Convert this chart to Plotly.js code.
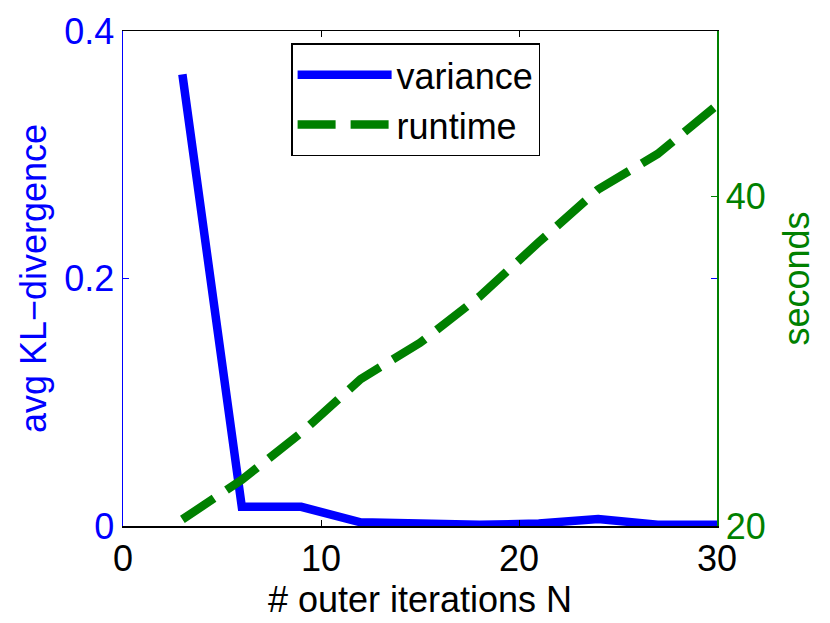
<!DOCTYPE html>
<html>
<head>
<meta charset="utf-8">
<script src="https://cdn.plot.ly/plotly-3.0.1.min.js"></script>
<style>
  body { margin: 0; background: #fff; }
  #chart { width: 830px; height: 623px; }
</style>
</head>
<body>
<div id="chart"></div>
<script>
const iterations = [3, 6, 9, 12, 15, 18, 21, 24, 27, 30];
const variance = [0.365, 0.0155, 0.0155, 0.003, 0.002, 0.001, 0.002, 0.0057, 0.001, 0.001];
const runtime = [20.4, 22.8, 25.65, 28.9, 31.1, 33.9, 37.2, 40.4, 42.55, 45.5];

const font = "Liberation Sans, Arial, Helvetica, sans-serif";

const data = [
  {
    x: iterations,
    y: variance,
    name: "variance",
    type: "scatter",
    mode: "lines",
    line: { color: "#0000ff", width: 8.5 },
  },
  {
    x: iterations,
    y: runtime,
    name: "runtime",
    type: "scatter",
    mode: "lines",
    yaxis: "y2",
    line: { color: "#008000", width: 8.5, dash: "38px,15px" },
  },
];

const layout = {
  width: 830,
  height: 623,
  margin: { l: 123, r: 113, t: 31, b: 97 },
  paper_bgcolor: "#fff",
  plot_bgcolor: "#fff",
  font: { family: font, size: 36, color: "#000" },
  showlegend: true,
  legend: {
    x: 0.283,
    y: 0.975,
    xanchor: "left",
    yanchor: "top",
    bgcolor: "#fff",
    bordercolor: "#000",
    borderwidth: 1.5,
    itemwidth: 94,
    font: { family: font, size: 36, color: "#000" },
  },
  xaxis: {
    range: [0, 30],
    tickvals: [0, 10, 20, 30],
    ticks: "inside",
    ticklen: 6,
    tickcolor: "#000",
    showline: true,
    linecolor: "#000",
    linewidth: 1.5,
    mirror: "ticks",
    showgrid: false,
    zeroline: false,
    title: { text: "# outer iterations N", font: { size: 36 }, standoff: 8 },
  },
  yaxis: {
    range: [0, 0.4],
    tickvals: [0, 0.2, 0.4],
    ticks: "inside",
    ticklen: 6,
    tickcolor: "#0000ff",
    tickfont: { color: "#0000ff" },
    showline: true,
    linecolor: "#0000ff",
    linewidth: 1.5,
    mirror: "ticks",
    showgrid: false,
    zeroline: false,
    title: { text: "avg KL\u2212divergence", font: { size: 36, color: "#0000ff" }, standoff: 6 },
  },
  yaxis2: {
    overlaying: "y",
    side: "right",
    range: [20, 50],
    tickvals: [20, 40],
    ticks: "inside",
    ticklen: 6,
    tickcolor: "#008000",
    tickfont: { color: "#008000" },
    showline: true,
    linecolor: "#008000",
    linewidth: 1.5,
    showgrid: false,
    zeroline: false,
    title: { text: "seconds", font: { size: 36, color: "#008000" }, standoff: 19 },
  },
};

Plotly.newPlot("chart", data, layout, { staticPlot: true });
</script>
</body>
</html>
